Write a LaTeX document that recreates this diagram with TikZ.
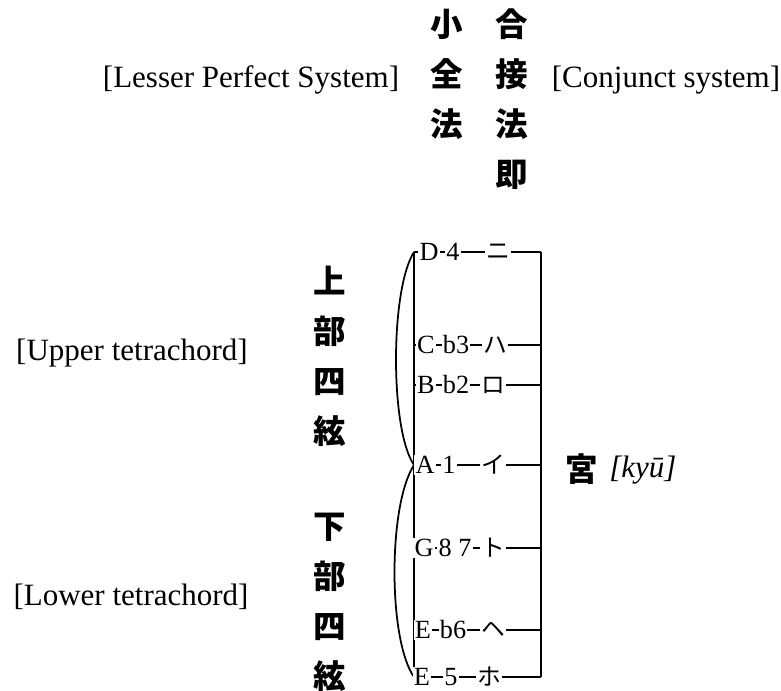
\documentclass[tikz,border=0pt]{standalone}
\usepackage{fontspec}
\setmainfont{Liberation Serif}
\newfontfamily\cjk{Noto Sans CJK JP}
\usepackage{tikz}
\usetikzlibrary{positioning}

\begin{document}
\begin{tikzpicture}[
    x=0.4pt, y=-0.4pt,
    node distance=7.1pt,
    gloss/.style={inner sep=0pt, font=\fontsize{12.4}{14}\selectfont},
    han/.style={inner sep=0pt, text height=11pt, text depth=1.5pt, font=\cjk\bfseries\fontsize{13}{14}\selectfont},
    note/.style={inner sep=0.5pt, fill=white, font=\fontsize{10.5}{12}\selectfont},
    kana/.style={inner sep=0.5pt, fill=white, font=\cjk\fontsize{9.5}{11}\selectfont},
    stringline/.style={line width=0.8pt},
    bow/.style={line width=0.7pt}
]
\useasboundingbox (0,0) rectangle (781,691);

\node[han] (xiao) at (447,25) {小};
\node[han, below=of xiao] (quan) {全};
\node[han, below=of quan] (fa1) {法};
\node[han] (he) at (512,25) {合};
\node[han, below=of he] (jie) {接};
\node[han, below=of jie] (fa2) {法};
\node[han, below=of fa2] (ji) {即};
\node[gloss] (lesser) at (251,80) {[Lesser Perfect System]};
\node[gloss] (conjunct) at (666,80) {[Conjunct system]};

\node[han] (shang) at (330,282) {上};
\node[han, below=of shang] (bu1) {部};
\node[han, below=of bu1] (si1) {四};
\node[han, below=of si1] (xian1) {絃};
\node[han] (xia) at (330,527) {下};
\node[han, below=of xia] (bu2) {部};
\node[han, below=of bu2] (si2) {四};
\node[han, below=of si2] (xian2) {絃};
\node[gloss] (upper) at (132,353) {[Upper tetrachord]};
\node[gloss] (lower) at (131,597) {[Lower tetrachord]};

\coordinate (dl) at (414,252); \coordinate (dr) at (541,252);
\coordinate (cl) at (414,345); \coordinate (cr) at (541,345);
\coordinate (bl) at (414,385); \coordinate (br) at (541,385);
\coordinate (al) at (414,465); \coordinate (ar) at (541,465);
\coordinate (gl) at (414,548); \coordinate (gr) at (541,548);
\coordinate (fl) at (414,630); \coordinate (fr) at (541,630);
\coordinate (el) at (414,677); \coordinate (er) at (541,677);

\draw[stringline] (dl) -- (dr) (cl) -- (cr) (bl) -- (br) (al) -- (ar)
    (gl) -- (gr) (fl) -- (fr) (el) -- (er);
\draw[stringline] (dl) -- (el) (dr) -- (er);
\draw[bow] (dl) .. controls (390,290) and (390,430) .. (al);
\draw[bow] (al) .. controls (388,505) and (388,640) .. (el);

\node[note] (dn) at (429,252) {D};
\node[note] (dd) at (453,252) {4};
\node[kana] (dk) at (498,252) {ニ};
\node[note] (cn) at (426,345) {C};
\node[note] (cd) at (456,345) {b3};
\node[kana] (ck) at (495,345) {ハ};
\node[note] (bn) at (426,385) {B};
\node[note] (bd) at (456,385) {b2};
\node[kana] (bk) at (493,385) {ロ};
\node[note] (an) at (425,465) {A};
\node[note] (ad) at (449,465) {1};
\node[kana] (ak) at (493,465) {イ};
\node[note] (gn) at (424,548) {G};
\node[note] (gd) at (455,548) {8 7};
\node[kana] (gk) at (493,548) {ト};
\node[note] (fn) at (423,630) {E};
\node[note] (fd) at (453,630) {b6};
\node[kana] (fk) at (493,630) {ヘ};
\node[note] (en) at (422,677) {E};
\node[note] (ed) at (451,677) {5};
\node[kana] (ek) at (489,677) {ホ};

\node[han] (gong) at (582,470) {宮};
\node[gloss, right=4pt of gong] (kyu) {\itshape [kyū]};
\end{tikzpicture}
\end{document}
